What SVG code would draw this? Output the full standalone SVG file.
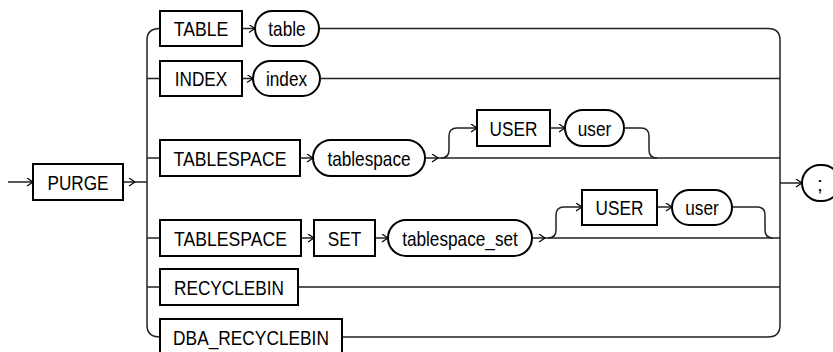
<svg xmlns="http://www.w3.org/2000/svg" width="833" height="352" viewBox="0 0 833 352">
<defs>
<marker id="ah" markerWidth="10" markerHeight="10" refX="7" refY="4" orient="auto" markerUnits="userSpaceOnUse">
<path d="M1,0 L7,4 L1,8" fill="none" stroke="#000" stroke-width="1.2"/>
</marker>
<style>
.box{fill:#fff;stroke:#000;stroke-width:2}
.t{font-family:"Liberation Sans",Arial,sans-serif;font-size:21px;fill:#000;text-anchor:middle;dominant-baseline:central}
.ln{fill:none;stroke:#222;stroke-width:1.5}
.ar{fill:none;stroke:#222;stroke-width:1.5;marker-end:url(#ah)}
</style>
</defs>
<rect width="833" height="352" fill="#fff"/>
<g id="connectors">
<path class="ar" d="M8,182 L33,182"/>
<path class="ar" d="M123,182 L135,182"/>
<path class="ln" d="M135,182 L147,182"/>
<path class="ln" d="M160,28.5 Q147,28.5 147,40 L147,325 Q147,337 160,337"/>
<path class="ln" d="M147,78.5 L160,78.5 M147,158 L160,158 M147,238 L160,238 M147,287 L160,287"/>
<path class="ar" d="M242,28.5 L255,28.5"/>
<path class="ar" d="M242,78.5 L253,78.5"/>
<path class="ar" d="M300,158 L313,158"/>
<path class="ar" d="M425,158 L438,158"/>
<path class="ar" d="M441,158 Q449,158 449,150 L449,136 Q449,128 457,128 L477,128"/>
<path class="ar" d="M550,128 L565,128"/>
<path class="ln" d="M624,128 L641,128 Q649,128 649,136 L649,150 Q649,158 657,158"/>
<path class="ar" d="M301,238 L314,238"/>
<path class="ar" d="M375,238 L388,238"/>
<path class="ar" d="M532,238 L545,238"/>
<path class="ar" d="M548,238 Q556,238 556,230 L556,215 Q556,207 564,207 L582,207"/>
<path class="ar" d="M657,207 L672,207"/>
<path class="ln" d="M732,207 L757,207 Q765,207 765,215 L765,230 Q765,238 773,238"/>
<path class="ln" d="M319,28.5 L768,28.5 Q780,28.5 780,40 L780,325 Q780,337 768,337 L342,337"/>
<path class="ln" d="M320,78.5 L780,78.5 M438,158 L780,158 M545,238 L780,238 M298,287 L780,287"/>
<path class="ar" d="M780,183 L802,183"/>
</g>
<g id="purge"><rect class="box" x="33" y="164" width="90" height="36"/><text class="t" x="78" y="182" textLength="61" lengthAdjust="spacingAndGlyphs">PURGE</text></g>
<g id="table-kw"><rect class="box" x="160" y="11" width="82" height="35"/><text class="t" x="201" y="28.5" textLength="54.5" lengthAdjust="spacingAndGlyphs">TABLE</text></g>
<g id="table"><rect class="box" x="255" y="11" width="64" height="35" rx="17.5"/><text class="t" x="287" y="28.5" textLength="37.3" lengthAdjust="spacingAndGlyphs">table</text></g>
<g id="index-kw"><rect class="box" x="160" y="61" width="82" height="35"/><text class="t" x="201" y="78.5" textLength="52.6" lengthAdjust="spacingAndGlyphs">INDEX</text></g>
<g id="index"><rect class="box" x="253" y="61" width="67" height="35" rx="17.5"/><text class="t" x="286.5" y="78.5" textLength="41.1" lengthAdjust="spacingAndGlyphs">index</text></g>
<g id="tablespace-kw"><rect class="box" x="160" y="140" width="140" height="36"/><text class="t" x="230" y="158" textLength="112.8" lengthAdjust="spacingAndGlyphs">TABLESPACE</text></g>
<g id="tablespace"><rect class="box" x="313" y="140" width="112" height="36" rx="18"/><text class="t" x="369" y="158" textLength="83.2" lengthAdjust="spacingAndGlyphs">tablespace</text></g>
<g id="user-kw1"><rect class="box" x="477" y="110" width="73" height="36"/><text class="t" x="513.5" y="128" textLength="47.8" lengthAdjust="spacingAndGlyphs">USER</text></g>
<g id="user1"><rect class="box" x="565" y="110" width="59" height="36" rx="18"/><text class="t" x="594.5" y="128" textLength="33.5" lengthAdjust="spacingAndGlyphs">user</text></g>
<g id="tablespace-kw2"><rect class="box" x="160" y="220" width="141" height="36"/><text class="t" x="230.5" y="238" textLength="112.8" lengthAdjust="spacingAndGlyphs">TABLESPACE</text></g>
<g id="set-kw"><rect class="box" x="314" y="220" width="61" height="36"/><text class="t" x="344.5" y="238" textLength="33.5" lengthAdjust="spacingAndGlyphs">SET</text></g>
<g id="tablespace-set"><rect class="box" x="388" y="220" width="144" height="36" rx="18"/><text class="t" x="460" y="238" textLength="115.7" lengthAdjust="spacingAndGlyphs">tablespace_set</text></g>
<g id="user-kw2"><rect class="box" x="582" y="190" width="75" height="35"/><text class="t" x="619.5" y="207.5" textLength="47.8" lengthAdjust="spacingAndGlyphs">USER</text></g>
<g id="user2"><rect class="box" x="672" y="190" width="60" height="35" rx="17.5"/><text class="t" x="702" y="207.5" textLength="33.5" lengthAdjust="spacingAndGlyphs">user</text></g>
<g id="recyclebin-kw"><rect class="box" x="160" y="269" width="138" height="36"/><text class="t" x="229" y="287" textLength="109.9" lengthAdjust="spacingAndGlyphs">RECYCLEBIN</text></g>
<g id="dba-recyclebin-kw"><rect class="box" x="160" y="319" width="182" height="36"/><text class="t" x="251" y="337" textLength="155.8" lengthAdjust="spacingAndGlyphs">DBA_RECYCLEBIN</text></g>
<g id="semicolon"><rect class="box" x="802" y="165" width="38" height="36" rx="18"/><text class="t" x="820" y="183">;</text></g>
</svg>
